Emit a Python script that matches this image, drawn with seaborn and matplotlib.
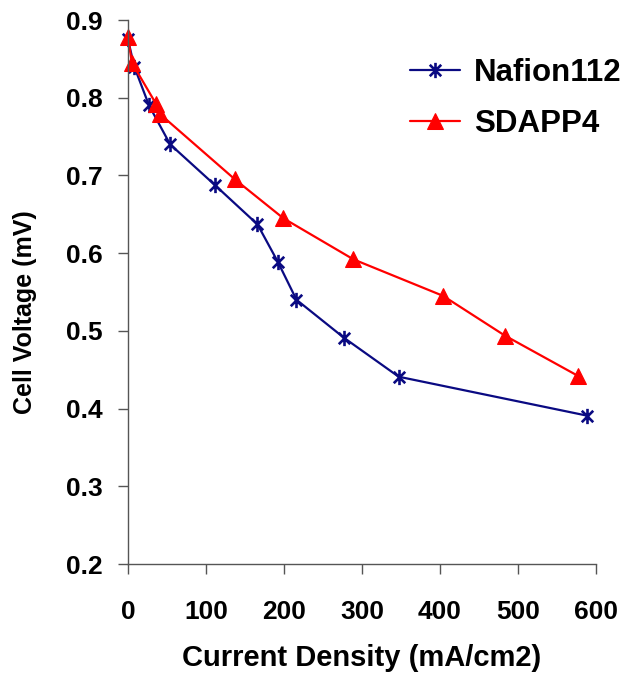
import numpy as np
import pandas as pd
from matplotlib import pyplot as plt
from matplotlib.path import Path
import seaborn as sns

# Values
nafion_x = [0, 8, 27, 54, 111, 166, 192, 216, 277, 347, 588]
nafion_y = [0.875, 0.840, 0.790, 0.740, 0.688, 0.637, 0.589, 0.540, 0.491, 0.441, 0.391]
sdapp_x = [0, 5, 36, 41, 137, 199, 289, 404, 483, 577]
sdapp_y = [0.878, 0.845, 0.792, 0.779, 0.695, 0.645, 0.592, 0.545, 0.494, 0.442]
series_names = ["Nafion112", "SDAPP4"]
x_ticks = [0, 100, 200, 300, 400, 500, 600]
y_ticks = [0.2, 0.3, 0.4, 0.5, 0.6, 0.7, 0.8, 0.9]

sns.set_style("white")
plt.rcParams['font.family'] = ['Liberation Sans', 'DejaVu Sans']
plt.rcParams['text.color'] = 'black'
plt.rcParams['axes.labelcolor'] = 'black'
plt.rcParams['xtick.color'] = 'black'
plt.rcParams['ytick.color'] = 'black'

# excel style star marker: an x with a vertical bar
star = Path(
    [(0, -1), (0, 1), (-0.75, -0.75), (0.75, 0.75), (-0.75, 0.75), (0.75, -0.75)],
    [Path.MOVETO, Path.LINETO, Path.MOVETO, Path.LINETO, Path.MOVETO, Path.LINETO],
)

fig = plt.figure(figsize=(6.36, 6.81), dpi=100)
ax = fig.add_axes([128 / 636, 117 / 681, 468 / 636, 544 / 681])

nafion = pd.DataFrame({"x": nafion_x, "y": nafion_y})
sdapp = pd.DataFrame({"x": sdapp_x, "y": sdapp_y})

sns.lineplot(data=nafion, x="x", y="y", ax=ax, color="#0a0a82", linewidth=1.6,
             marker=star, markersize=11, markeredgewidth=1.9, markeredgecolor="#0a0a82",
             label=series_names[0])
sns.lineplot(data=sdapp, x="x", y="y", ax=ax, color="#ff0000", linewidth=1.6,
             marker="^", markersize=11, markeredgecolor="#ff0000", markerfacecolor="#ff0000",
             label=series_names[1])

ax.set_xlim(0, 600)
ax.set_ylim(0.2, 0.9)
ax.set_xticks(x_ticks)
ax.set_yticks(y_ticks)
ax.set_xticklabels([str(t) for t in x_ticks], fontsize=19, fontweight="bold")
ax.set_yticklabels([f"{t:.1f}" for t in y_ticks], fontsize=19, fontweight="bold")
ax.tick_params(axis="x", direction="out", length=7, width=1, color="#555555", pad=19, bottom=True)
ax.tick_params(axis="y", direction="out", length=7, width=1, color="#555555", pad=11, left=True)

for side in ["top", "right"]:
    ax.spines[side].set_visible(False)
for side in ["left", "bottom"]:
    ax.spines[side].set_color("#555555")
    ax.spines[side].set_linewidth(1)
for line in ax.lines:
    line.set_clip_on(False)

ax.set_xlabel("Current Density (mA/cm2)", fontsize=21, fontweight="bold")
ax.set_ylabel("Cell Voltage (mV)", fontsize=18, fontweight="bold")
ax.xaxis.set_label_coords(0.5, -0.173)
ax.xaxis.label.set_verticalalignment("center")
ax.yaxis.set_label_coords(-0.22, 0.463)
ax.yaxis.label.set_verticalalignment("center")

ax.legend(loc="upper left", bbox_to_anchor=(410 / 636, 1 - 58 / 681),
          bbox_transform=fig.transFigure, frameon=False,
          prop={"weight": "bold", "size": 22.5}, handlelength=1.6, handletextpad=0.45,
          labelspacing=0.68, borderaxespad=0, borderpad=0)

fig.savefig("out.png", dpi=100)
plt.close("all")
